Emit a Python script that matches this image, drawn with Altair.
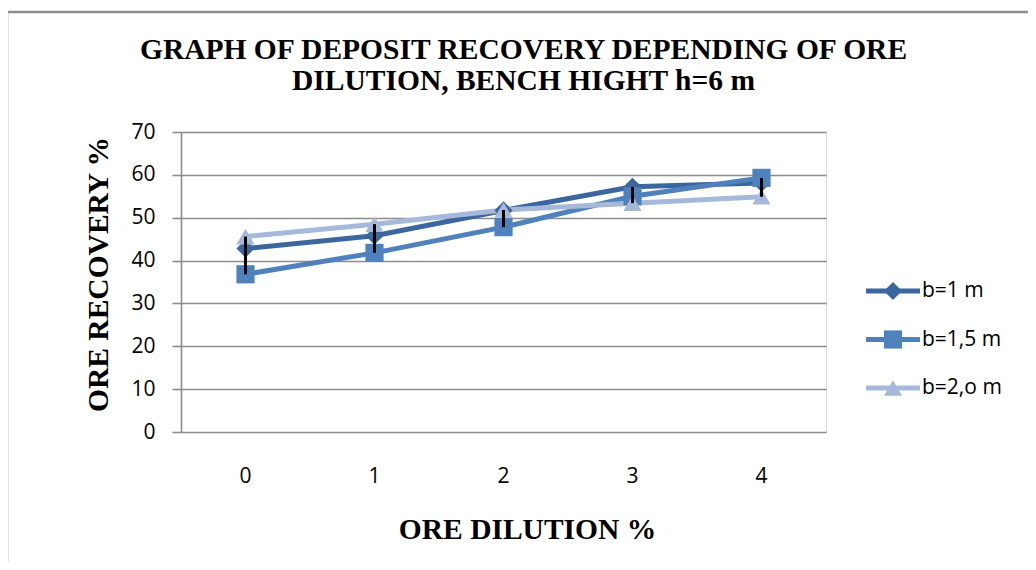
import altair as alt
import pandas as pd

dilution = [0, 1, 2, 3, 4]
series_names = ["b=1 m", "b=1,5 m", "b=2,o m"]
b1 = [42.8, 45.8, 51.7, 57.2, 58.1]
b15 = [36.8, 41.8, 47.8, 55.0, 59.3]
b20 = [45.6, 48.5, 51.8, 53.4, 54.9]
colors = ["#3b679e", "#4f81bd", "#a6b9db"]
shapes = ["diamond", "square", "triangle-up"]
y_ticks = [0, 10, 20, 30, 40, 50, 60, 70]

rows = []
for name, vals in zip(series_names, [b1, b15, b20]):
    for xv, v in zip(dilution, vals):
        rows.append({"dilution": str(xv), "series": name, "value": v, "order": series_names.index(name)})
df = pd.DataFrame(rows)
legend_df = pd.DataFrame({"series": series_names})

color = alt.Color("series:N", scale=alt.Scale(domain=series_names, range=colors), legend=None)
shape = alt.Shape("series:N", scale=alt.Scale(domain=series_names, range=shapes), legend=None)

TITLE_SIZE = 29.5

x_enc = alt.X(
    "dilution:O",
    scale=alt.Scale(type="band", paddingInner=0, paddingOuter=0),
    axis=alt.Axis(
        title="ORE DILUTION %", labelAngle=0, ticks=False, tickSize=0, domain=False,
        labelFont="Open Sans", labelFontSize=21, labelColor="black", labelPadding=33,
        labelBaseline="top",
        titleFont="Liberation Serif", titleFontSize=TITLE_SIZE, titleFontWeight="bold", titleColor="black",
        titleX=346, titleY=106, titleBaseline="alphabetic", titleAlign="center",
    ),
)
y_scale = alt.Scale(domain=[0, 70], nice=False, zero=True)
y_enc = alt.Y(
    "value:Q",
    scale=y_scale,
    axis=alt.Axis(
        title="ORE RECOVERY %", values=y_ticks, grid=True, gridColor="#8c8c8c", gridWidth=1.6,
        domain=True, domainColor="#8c8c8c", domainWidth=1.6,
        ticks=True, tickColor="#8c8c8c", tickSize=9, tickWidth=1.6,
        labelFont="Open Sans", labelFontSize=21, labelColor="black", labelPadding=17,
        titleFont="Liberation Serif", titleFontSize=TITLE_SIZE, titleFontWeight="bold", titleColor="black",
        titleAngle=-90, titleX=-74, titleY=142, titleBaseline="alphabetic", titleAlign="center",
    ),
)

border = alt.Chart(alt.Data(values=[{}])).mark_rect(
    fill="transparent", stroke="#8c8c8c", strokeWidth=2.5
).encode(x=alt.value(-174), x2=alt.value(880), y=alt.value(-120), y2=alt.value(470))

base = alt.Chart(df)
lines = base.mark_line(strokeWidth=5).encode(x=x_enc, y=y_enc, color=color, detail="series:N", order="order:Q")
points = base.mark_point(filled=True, size=330, opacity=1).encode(
    x="dilution:O", y=alt.Y("value:Q", scale=y_scale), color=color, shape=shape
)
rules = base.mark_rule(color="black", strokeWidth=3).encode(
    x="dilution:O", y=alt.Y("min(value):Q", scale=y_scale), y2="max(value):Q"
)
main = alt.layer(border, lines, points, rules)

leg_y = alt.Y("series:N", scale=alt.Scale(type="point", domain=series_names, range=[159, 256], padding=0), axis=None)
leg_base = alt.Chart(legend_df)
leg_line = leg_base.mark_rule(strokeWidth=5).encode(x=alt.value(685), x2=alt.value(739), y=leg_y, color=color)
leg_pt = leg_base.mark_point(filled=True, size=330, opacity=1).encode(x=alt.value(712), y=leg_y, color=color, shape=shape)
leg_txt = leg_base.mark_text(align="left", baseline="middle", font="Open Sans", fontSize=21, color="black").encode(
    x=alt.value(741), y=leg_y, text="series:N"
)
legend = alt.layer(leg_line, leg_pt, leg_txt)

chart = alt.layer(main, legend).resolve_scale(y="independent").properties(
    width=645,
    height=300,
    autosize=alt.AutoSizeParams(type="none"),
    padding={"left": 173, "top": 124, "right": 202, "bottom": 130},
    title=alt.TitleParams(
        text=["GRAPH OF DEPOSIT RECOVERY DEPENDING OF ORE", "DILUTION, BENCH HIGHT h=6 m"],
        font="Liberation Serif", fontSize=TITLE_SIZE, fontWeight="bold", color="black",
        anchor="middle", dx=20, dy=120, offset=34, lineHeight=31,
    ),
).configure_view(stroke=None).configure(background="white")

chart.save("out.html", embed_options={"renderer": "svg", "actions": False})
